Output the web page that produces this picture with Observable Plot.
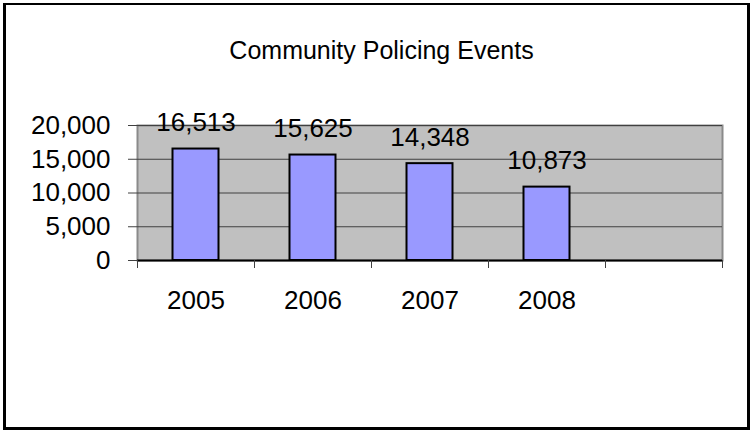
<!DOCTYPE html>
<html><head><meta charset="utf-8">
<script src="https://cdn.jsdelivr.net/npm/d3@7"></script>
<script src="https://cdn.jsdelivr.net/npm/@observablehq/plot@0.6"></script>
<style>
html,body{margin:0;padding:0;background:#fff;}
#wrap{position:relative;width:750px;height:431px;overflow:hidden;background:#fff;}
#chart{position:absolute;left:0;top:0;width:750px;}
#chart figure{margin:0;}
#chart h2{margin:0;padding:36px 0 0 13px;height:26px;line-height:25px;font:normal 25px "Liberation Sans",Arial,sans-serif;text-align:center;color:#000;}
#border{position:absolute;left:3px;top:3px;width:741px;height:422px;border-style:solid;border-color:#000;border-width:2px 3px 3px 3px;pointer-events:none;}
</style></head><body>
<div id="wrap"><div id="chart"></div><div id="border"></div></div>
<script>
const title = "Community Policing Events";
const years = ["2005", "2006", "2007", "2008", ""];
const events = [16513, 15625, 14348, 10873];
const yTicks = [0, 5000, 10000, 15000, 20000];

const data = events.map((v, i) => ({year: years[i], value: v}));
const W = 750, ML = 137, MR = 28;
const bw = (W - ML - MR) / years.length;
const fmt = d3.format(",");

const chart = Plot.plot({
  title,
  width: W,
  height: 369,
  marginLeft: ML,
  marginRight: MR,
  marginTop: 63,
  marginBottom: 171,
  style: {fontFamily: '"Liberation Sans", Arial, sans-serif', fontSize: "26px", color: "#000", background: "#fff", overflow: "visible"},
  x: {domain: years, padding: 0, label: null},
  y: {domain: [0, 20000], label: null},
  marks: [
    Plot.frame({fill: "#c0c0c0", stroke: "#8a8a8a", strokeWidth: 2}),
    Plot.gridY(yTicks, {stroke: "#404040", strokeOpacity: 1}),
    Plot.barY(data, {x: "year", y: "value", fill: "#9999ff", stroke: "#000", strokeWidth: 2, insetLeft: 35.5, insetRight: 35.5}),
    Plot.text(data, {x: "year", y: "value", text: d => fmt(d.value), dy: -26, lineAnchor: "middle", fill: "#000"}),
    Plot.axisY(yTicks, {tickSize: 9, tickPadding: 18, tickFormat: fmt, stroke: "#404040", line: true, label: null}),
    Plot.ruleY([0], {stroke: "#000", strokeWidth: 2}),
    Plot.axisX(years, {tickSize: 8, tickFormat: () => "", dx: -bw / 2, stroke: "#404040", label: null}),
    Plot.axisX([years[years.length - 1]], {tickSize: 8, tickFormat: () => "", dx: bw / 2, stroke: "#404040", label: null}),
    Plot.axisX(years, {tickSize: 0, tickPadding: 30, label: null})
  ]
});
document.getElementById("chart").appendChild(chart);
</script>
</body></html>
